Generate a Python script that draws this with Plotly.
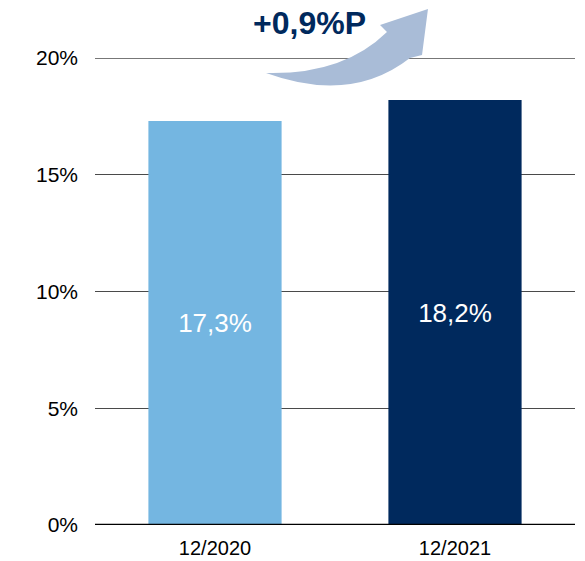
import plotly.graph_objects as go

categories = ["12/2020", "12/2021"]
values = [17.3, 18.2]
bar_labels = ["17,3%", "18,2%"]
bar_colors = ["#74B6E1", "#00295D"]
y_ticks = [0, 5, 10, 15, 20]
y_tick_labels = ["0%", "5%", "10%", "15%", "20%"]
change_label = "+0,9%P"

W, H = 585, 561
L, R, T, B = 95, 10, 58, 36
pw, ph = W - L - R, H - T - B


def px(x, y):
    return (x - L) / pw, (H - B - y) / ph


def path(cmds):
    out = []
    for c in cmds:
        if isinstance(c, str):
            out.append(c)
        else:
            a, b = px(*c)
            out.append(f"{a:.4f},{b:.4f}")
    return " ".join(out)


arrow = path([
    "M", (266, 73),
    "Q", (351, 104), (410, 58),
    "L", (422, 55),
    "L", (428, 9),
    "L", (380, 25),
    "L", (387, 32),
    "Q", (343, 75), (266, 73),
    "Z",
])

fig = go.Figure(
    go.Bar(
        x=categories,
        y=values,
        marker=dict(color=bar_colors, line=dict(width=0)),
        text=bar_labels,
        textposition="inside",
        insidetextanchor="middle",
        textfont=dict(color="white", size=26, family="Liberation Sans, Arial"),
        width=0.555,
        hoverinfo="skip",
    )
)

fig.update_layout(
    width=W,
    height=H,
    margin=dict(l=L, r=R, t=T, b=B, pad=0, autoexpand=False),
    paper_bgcolor="white",
    plot_bgcolor="white",
    showlegend=False,
    font=dict(family="Liberation Sans, Arial", color="black", size=20),
    xaxis=dict(
        showgrid=False,
        showline=False,
        tickfont=dict(size=20),
        ticks="",
        ticklabelstandoff=9,
        automargin=False,
    ),
    yaxis=dict(
        range=[0, 20],
        tickvals=y_ticks,
        ticktext=y_tick_labels,
        showgrid=True,
        gridcolor="#4a4a4a",
        gridwidth=1.3,
        zeroline=False,
        showline=False,
        ticks="",
        ticklabelstandoff=16,
        tickfont=dict(size=21),
        fixedrange=True,
        automargin=False,
    ),
    shapes=[
        dict(type="line", xref="paper", yref="y", x0=0, x1=1, y0=20, y1=20,
             line=dict(color="#4a4a4a", width=1.3), layer="below"),
        dict(type="line", xref="paper", yref="y", x0=0, x1=1, y0=0, y1=0,
             line=dict(color="black", width=2.5), layer="above"),
        dict(type="path", xref="paper", yref="paper", path=arrow,
             fillcolor="#A9BCD7", line=dict(width=0), layer="above"),
    ],
    annotations=[
        dict(text=f"<b>{change_label}</b>", xref="paper", yref="paper",
             x=px(309, 23)[0], y=px(309, 23)[1], showarrow=False,
             font=dict(size=32, color="#00295D", family="Liberation Sans, Arial"),
             xanchor="center", yanchor="middle"),
    ],
)

fig.write_html(
    "out.html",
    config={"displayModeBar": False, "staticPlot": True},
    post_script="document.body.style.margin='0';document.body.style.padding='0';",
)
